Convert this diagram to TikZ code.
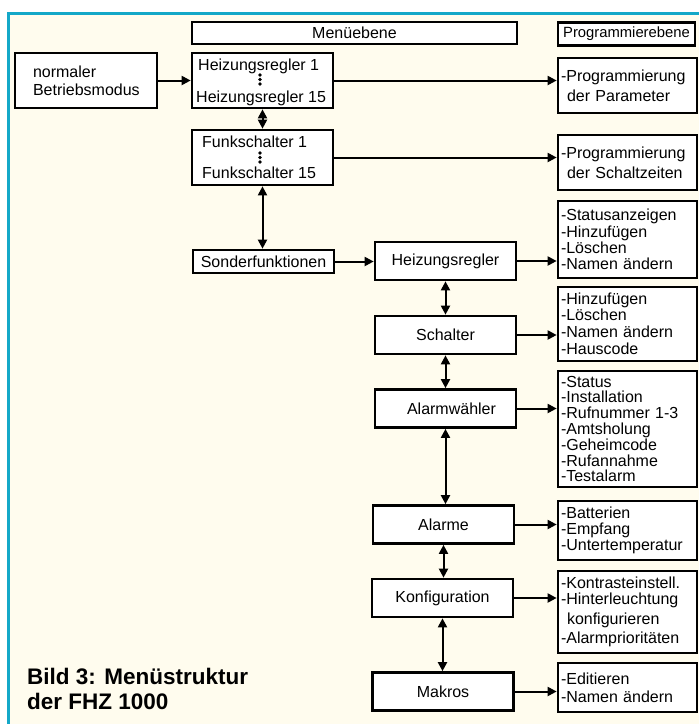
\documentclass[tikz,border=0pt]{standalone}
\usepackage{fontspec}
\setmainfont{Liberation Sans}
\usepackage{xcolor}
\usepackage{tikz}
\usetikzlibrary{arrows.meta,positioning}
\definecolor{framecyan}{RGB}{20,168,200}
\definecolor{papercream}{RGB}{255,252,238}

\begin{document}
\begin{tikzpicture}[x=1pt,y=-1pt,
  box/.style={draw,line width=2.7pt,fill=white,inner sep=0pt,font=\fontsize{16}{16.3}\selectfont},
  menu/.style={box,minimum width=141pt,minimum height=38pt},
  lst/.style={box,align=left,text width=133pt,inner xsep=3pt},
  lbl/.style={font=\fontsize{16}{16.3}\selectfont,inner sep=0pt,anchor=base west},
  link/.style={line width=2pt,-{Triangle[length=9pt,width=9pt]}},
  dlink/.style={line width=2pt,{Triangle[length=9pt,width=9pt]}-{Triangle[length=9pt,width=9pt]}}]
  \useasboundingbox (0,0) rectangle (699,724);
  \fill[papercream] (8,13) rectangle (699,724);
  \draw[framecyan,line width=2.6pt] (8.7,724) -- (8.7,13.5) -- (699,13.5);
  % headings
  \node[box,minimum width=325pt,minimum height=22pt] (menue) at (354.5,33) {Menüebene};
  \node[box,minimum width=137pt,minimum height=23pt,font=\fontsize{14.8}{16}\selectfont] (progebene) at (626.5,34) {Programmierebene};
  % left part
  \node[box,align=left,text width=106pt,inner xsep=18pt,minimum height=55pt] (normal) at (86,80.5) {normaler\\[1.5pt]Betriebsmodus};
  \node[box,minimum width=141pt,minimum height=55pt] (heizgrp) at (262.5,80.5) {};
  \node[lbl] (heizfirst) at (198,70.5) {Heizungsregler 1};
  \node[lbl] (heizlast) at (196,102) {Heizungsregler 15};
  \fill (260,75) circle (1.9pt);
  \fill (260,79.5) circle (1.9pt);
  \fill (260,84) circle (1.9pt);
  \node[box,minimum width=141pt,minimum height=55pt] (funkgrp) at (262.5,157.5) {};
  \node[lbl] (funkfirst) at (202,147.5) {Funkschalter 1};
  \node[lbl] (funklast) at (202,178) {Funkschalter 15};
  \fill (260,153) circle (1.9pt);
  \fill (260,157.5) circle (1.9pt);
  \fill (260,162) circle (1.9pt);
  \node[box,minimum width=141pt,minimum height=23pt] (sonder) at (263.5,261.5) {Sonderfunktionen};
  % special functions
  \node[menu] (heizung) at (445.5,261) {Heizungsregler};
  \node[menu] (schalter) at (445.5,335) {Schalter};
  \node[menu] (alarmw) at (445.5,408.5) {\hspace*{12pt}Alarmwähler};
  \node[menu] (alarme) at (443.5,524.5) {Alarme};
  \node[menu] (konfig) at (442.5,598) {Konfiguration};
  \node[menu] (makros) at (443,691.5) {Makros};
  % programming level
  \node[lst,minimum height=55pt] (progpar) at (627.5,85.5) {-Programmierung\\[3.5pt]\hspace*{6pt}der Parameter};
  \node[lst,minimum height=55pt] (progschalt) at (627.5,162.5) {-Programmierung\\[3.5pt]\hspace*{6pt}der Schaltzeiten};
  \node[lst,minimum height=77pt] (heizopt) at (627.5,239.5) {-Statusanzeigen\\-Hinzufügen\\-Löschen\\-Namen ändern};
  \node[lst,minimum height=74pt] (schaltopt) at (627.5,324) {-Hinzufügen\\-Löschen\\-Namen ändern\\[1.5pt]-Hauscode};
  \node[lst,minimum height=116pt,font=\fontsize{16}{15.8}\selectfont] (alarmwopt) at (627.5,429) {-Status\\-Installation\\-Rufnummer 1-3\\-Amtsholung\\-Geheimcode\\-Rufannahme\\-Testalarm};
  \node[lst,minimum height=59pt] (alarmeopt) at (627.5,530.5) {-Batterien\\-Empfang\\-Untertemperatur};
  \node[lst,minimum height=82pt] (konfigopt) at (627.5,612) {-Kontrasteinstell.\\[-0.5pt]-Hinterleuchtung\\[3.5pt]\hspace*{6pt}konfigurieren\\[2.5pt]-Alarmprioritäten};
  \node[lst,minimum height=49pt] (makroopt) at (627.5,687.5) {-Editieren\\[1.5pt]-Namen ändern};
  % caption
  \node[font=\bfseries\fontsize{22.5}{24.5}\selectfont,align=left,anchor=base west,inner sep=0pt] (caption) at (27,709) {Bild 3: Menüstruktur\\der FHZ 1000};
  % connectors
  \draw[link] (normal.east) -- (heizgrp.west);
  \draw[link] (heizgrp.east) -- (heizgrp.east -| progpar.west);
  \draw[link] (funkgrp.east) -- (funkgrp.east -| progschalt.west);
  \draw[dlink] (heizgrp.south) -- (funkgrp.north);
  \draw[dlink] (funkgrp.south) -- (funkgrp.south |- sonder.north);
  \draw[link] (sonder.east) -- (sonder.east -| heizung.west);
  \draw[link] (heizung.east) -- (heizung.east -| heizopt.west);
  \draw[link] (schalter.east) -- (schalter.east -| schaltopt.west);
  \draw[link] (alarmw.east) -- (alarmw.east -| alarmwopt.west);
  \draw[link] (alarme.east) -- (alarme.east -| alarmeopt.west);
  \draw[link] (konfig.east) -- (konfig.east -| konfigopt.west);
  \draw[link] (makros.east) -- (makros.east -| makroopt.west);
  \draw[dlink] (heizung.south) -- (schalter.north);
  \draw[dlink] (schalter.south) -- (alarmw.north);
  \draw[dlink] (alarmw.south) -- (alarmw.south |- alarme.north);
  \draw[dlink] (alarme.south) -- (alarme.south |- konfig.north);
  \draw[dlink] (konfig.south) -- (konfig.south |- makros.north);
\end{tikzpicture}
\end{document}
